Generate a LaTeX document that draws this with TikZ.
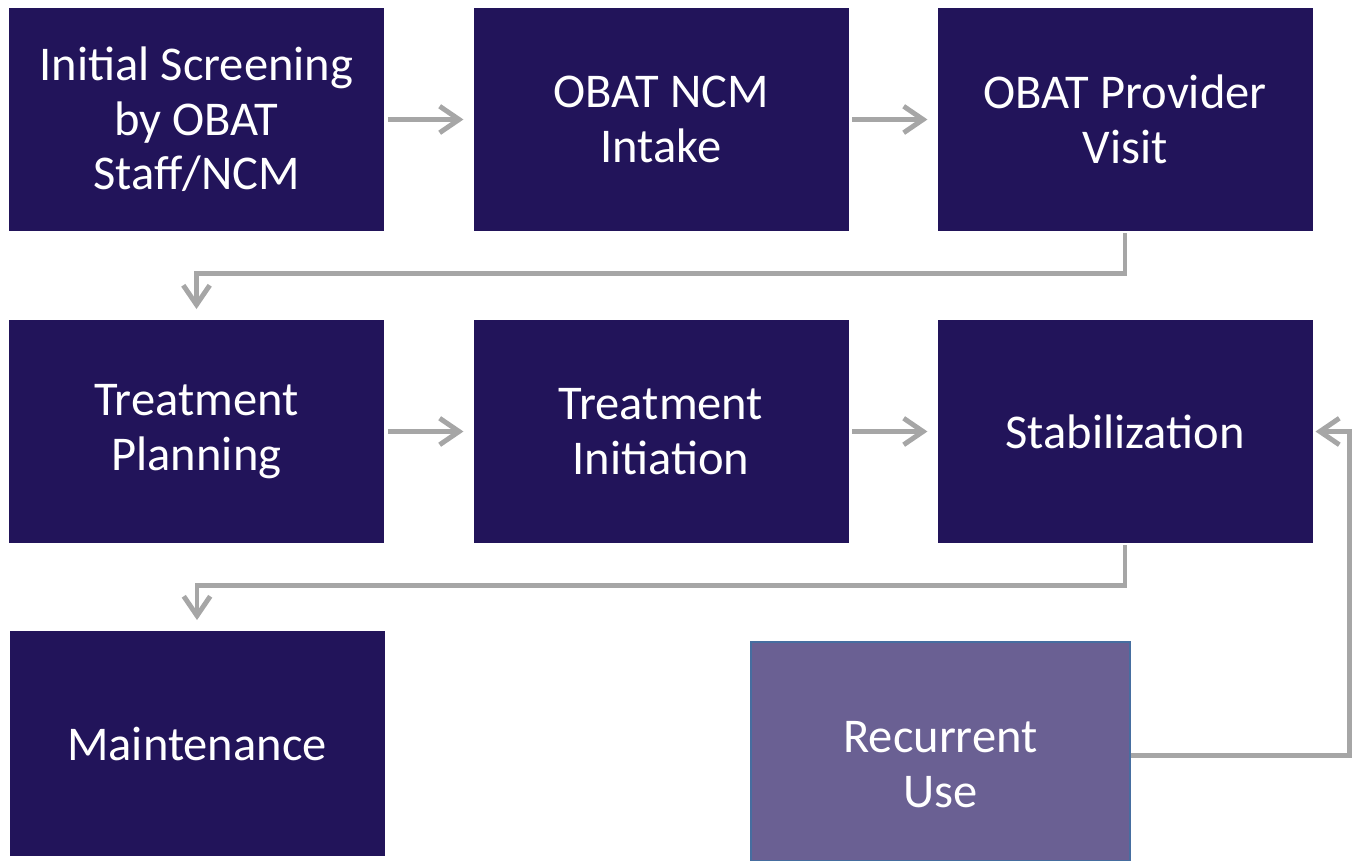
\documentclass[tikz,border=0pt]{standalone}
\usepackage{fontspec}
\setmainfont{Carlito}
\usetikzlibrary{arrows.meta}
\definecolor{boxdark}{RGB}{34,20,90}
\definecolor{boxlight}{RGB}{106,96,147}
\definecolor{boxedge}{RGB}{70,110,160}
\definecolor{arrgray}{RGB}{166,166,166}
\tikzset{
  boxfont/.style={font=\fontsize{27.5}{30.8}\selectfont},
  stepbox/.style={fill=boxdark, draw=none, text=white, align=center,
    minimum width={375*0.5669pt}, minimum height={223*0.5669pt}, inner sep=0pt,
    boxfont},
  recbox/.style={fill=boxlight, draw=boxedge, line width=0.6pt, text=white, align=center,
    minimum width={379*0.5669pt}, minimum height={219*0.5669pt}, inner sep=0pt,
    boxfont},
  arr/.style={draw=arrgray, line width=2.8pt,
    -{Straight Barb[length=11pt,width=15pt]}},
}
\begin{document}
\begin{tikzpicture}[x=0.5669pt, y=-0.5669pt]
\useasboundingbox (0,0) rectangle (1359,861);
\node[stepbox] (b1) at (196.5,119.5) {Initial Screening\\by OBAT\\Staff/NCM};
\node[stepbox] (b2) at (661,119.5) {OBAT NCM\\Intake};
\node[stepbox] (b3) at (1125,119.5) {OBAT Provider\\Visit};
\node[stepbox] (b4) at (196.5,431.5) {Treatment\\Planning};
\node[stepbox] (b5) at (661,431.5) {Treatment\\Initiation};
\node[stepbox] (b6) at (1125,431.5) {Stabilization};
\node[stepbox, minimum height={225*0.5669pt}] (b7) at (197,743.5) {Maintenance};
\node[recbox, label={[text=white, align=center, boxfont, yshift=-7.5pt]center:Recurrent\\Use}] (ru) at (940.5,751.5) {};

\draw[arr, shorten <=2pt, shorten >=5.5pt] (b1.east) -- (b2.west);
\draw[arr, shorten <=2pt, shorten >=5.5pt] (b2.east) -- (b3.west);
\draw[arr, shorten <=2pt, shorten >=5.5pt] (b4.east) -- (b5.west);
\draw[arr, shorten <=2pt, shorten >=5.5pt] (b5.east) -- (b6.west);
\draw[arr, shorten <=1pt, shorten >=6pt] (b3.south) -- ++(0,42) -| (b4.north);
\draw[arr, shorten <=1pt, shorten >=6pt] (b6.south) -- ++(0,42) -| (b7.north);
\draw[arr, shorten >=1.5pt] ([yshift=-2pt]ru.east) -- ++(219,0) |- (b6.east);
\end{tikzpicture}
\end{document}
